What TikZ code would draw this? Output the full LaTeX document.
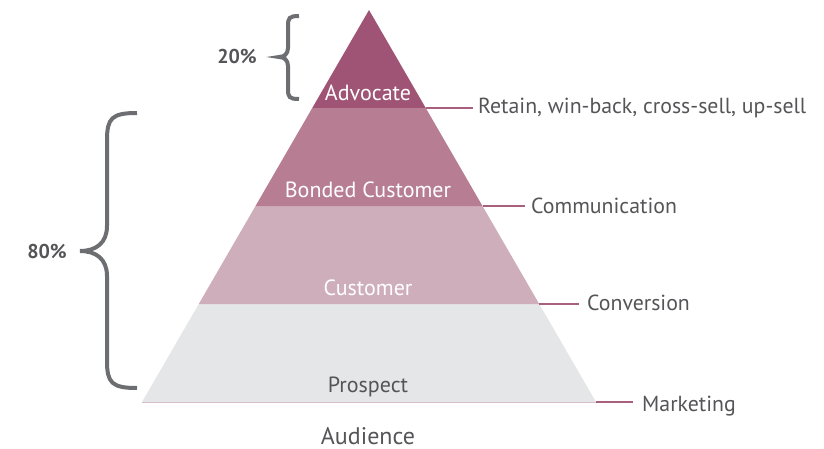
\documentclass[tikz,border=0pt]{standalone}
\usepackage{fontspec}
\setmainfont{PT Sans}
\usetikzlibrary{calc}
\definecolor{advc}{HTML}{A05475}
\definecolor{bondc}{HTML}{B77D93}
\definecolor{custc}{HTML}{CFAEBB}
\definecolor{prosc}{HTML}{E5E6E8}
\definecolor{linec}{HTML}{A8607E}
\definecolor{txtc}{HTML}{555558}
\definecolor{bracec}{HTML}{6D6E71}
\begin{document}
\begin{tikzpicture}[x=1pt,y=-1pt,
  layertxt/.style={font=\fontsize{22}{22}\selectfont, text=white, inner sep=0pt, anchor=base},
  sidetxt/.style={font=\fontsize{21.8}{22}\selectfont, text=txtc, inner sep=0pt, anchor=base west},
  pcttxt/.style={font=\fontsize{20}{20}\selectfont\bfseries, text=txtc, inner sep=0pt},
  conn/.style={draw=linec, line width=1.1pt},
  bracestyle/.style={draw=bracec, line width=4pt}]
\useasboundingbox (0,0) rectangle (824,449);
\coordinate (A) at (369,10);
\coordinate (BL) at (142,402);
\coordinate (BR) at (596,402);
\coordinate (L1) at ($(A)!0.25!(BL)$);
\coordinate (R1) at ($(A)!0.25!(BR)$);
\coordinate (L2) at ($(A)!0.5!(BL)$);
\coordinate (R2) at ($(A)!0.5!(BR)$);
\coordinate (L3) at ($(A)!0.75!(BL)$);
\coordinate (R3) at ($(A)!0.75!(BR)$);
% layers
\fill[prosc] (L3) -- (R3) -- (BR) -- (BL) -- cycle;
\fill[custc] (L2) -- (R2) -- (R3) -- (L3) -- cycle;
\fill[bondc] (L1) -- (R1) -- (R2) -- (L2) -- cycle;
\fill[advc] (A) -- (R1) -- (L1) -- cycle;
\draw[custc!80!white, line width=0.6pt] (BL) -- (BR);
% layer labels
\node[layertxt] (adv) at (368,101) {Advocate};
\node[layertxt] (bond) at (368,197) {Bonded Customer};
\node[layertxt] (cust) at (368,295) {Customer};
\node[layertxt, text=txtc] (pros) at (368,392) {Prospect};
\node[font=\fontsize{24}{24}\selectfont, text=txtc, inner sep=0pt, anchor=base] (aud) at (368,444) {Audience};
% side labels
\node[sidetxt] (ret) at (478,114) {Retain, win-back, cross-sell, up-sell};
\node[sidetxt] (com) at (531,213) {Communication};
\node[sidetxt] (conv) at (587,310) {Conversion};
\node[sidetxt] (mkt) at (642,411) {Marketing};
\draw[conn] (R1) -- ([xshift=-5pt]ret.west |- R1);
\draw[conn] (R2) -- ([xshift=-6pt]com.west |- R2);
\draw[conn] (R3) -- ([xshift=-8pt]conv.west |- R3);
\draw[conn] (BR) -- ([xshift=-9pt]mkt.west |- BR);
% braces
\draw[bracestyle] (299,16) .. controls (289,16) and (288,18) .. (288,26) -- (288,48) .. controls (288,54) and (284,57) .. (279,57) .. controls (284,57) and (288,60) .. (288,66) -- (288,89) .. controls (288,97) and (289,99) .. (299,99);
\draw[bracestyle] (137,113) .. controls (112,113) and (107,118) .. (107,140) -- (107,226) .. controls (107,243) and (96,251) .. (80,251) .. controls (96,251) and (107,259) .. (107,276) -- (107,361) .. controls (107,383) and (112,388) .. (137,388);
\node[pcttxt] (p20) at (237,57) {20\%};
\node[pcttxt] (p80) at (47,251) {80\%};
\end{tikzpicture}
\end{document}
